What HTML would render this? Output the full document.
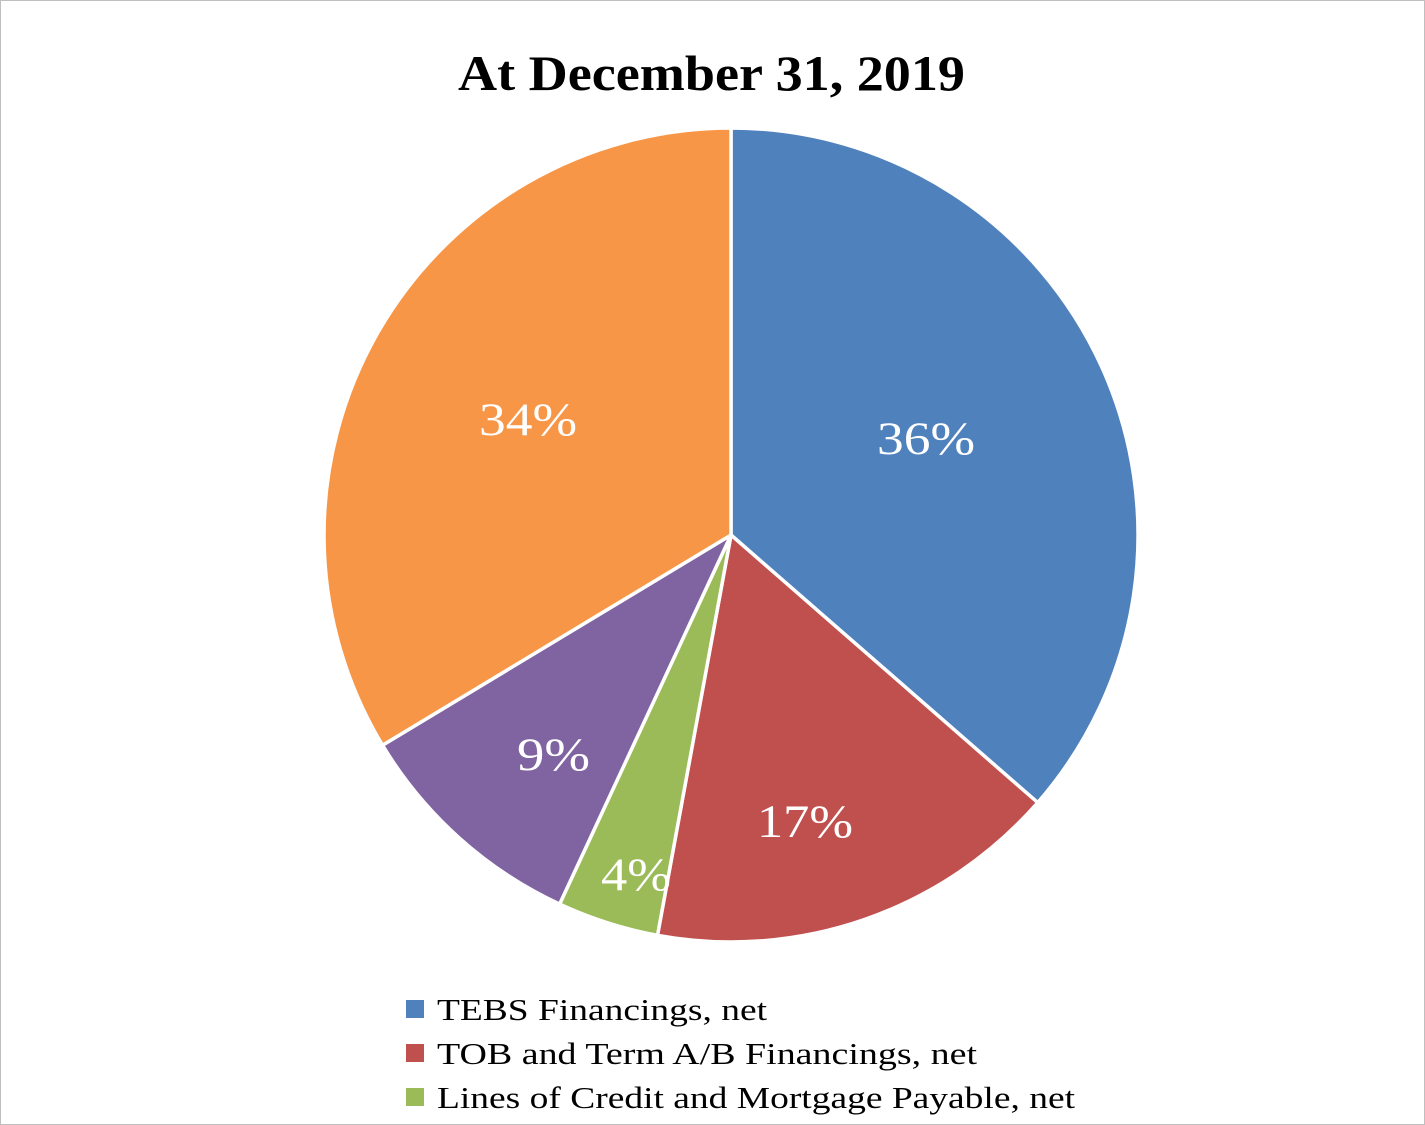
<!DOCTYPE html>
<html><head><meta charset="utf-8"><style>
html,body{margin:0;padding:0;background:#fff}
svg{display:block}
</style></head><body>
<svg width="1425" height="1125" viewBox="0 0 1425 1125" xmlns="http://www.w3.org/2000/svg">
<rect x="0.5" y="0.5" width="1424" height="1124" fill="#fff" stroke="#bfbfbf" stroke-width="1"/>
<text x="458" y="90" textLength="507" lengthAdjust="spacingAndGlyphs" font-family="Liberation Serif, serif" font-weight="bold" font-size="50">At December 31, 2019</text>
<g stroke="#fff" stroke-width="3.5" stroke-linejoin="round">
<path d="M731,535 L731,128 A407,407 0 0 1 1037.7,802.6 Z" fill="#4f81bd"/>
<path d="M731,535 L1037.7,802.6 A407,407 0 0 1 657.5,935.3 Z" fill="#c0504d"/>
<path d="M731,535 L657.5,935.3 A407,407 0 0 1 559.6,904.1 Z" fill="#9bbb59"/>
<path d="M731,535 L559.6,904.1 A407,407 0 0 1 382.5,745.2 Z" fill="#8064a2"/>
<path d="M731,535 L382.5,745.2 A407,407 0 0 1 731,128 Z" fill="#f79646"/>
</g>
<g fill="#fff" font-family="Liberation Serif, serif" font-size="47">
<text x="877" y="454" textLength="98" lengthAdjust="spacingAndGlyphs">36%</text>
<text x="757" y="837" textLength="96" lengthAdjust="spacingAndGlyphs">17%</text>
<text x="601" y="890" textLength="70" lengthAdjust="spacingAndGlyphs">4%</text>
<text x="517" y="770" textLength="73" lengthAdjust="spacingAndGlyphs">9%</text>
<text x="479" y="435" textLength="98" lengthAdjust="spacingAndGlyphs">34%</text>
</g>
<g font-family="Liberation Serif, serif" font-size="31" fill="#000">
<rect x="406" y="1000" width="18" height="18" fill="#4f81bd"/>
<text x="437" y="1020" textLength="330" lengthAdjust="spacingAndGlyphs">TEBS Financings, net</text>
<rect x="406" y="1044" width="18" height="18" fill="#c0504d"/>
<text x="437" y="1064" textLength="540" lengthAdjust="spacingAndGlyphs">TOB and Term A/B Financings, net</text>
<rect x="406" y="1088" width="18" height="18" fill="#9bbb59"/>
<text x="437" y="1108" textLength="638" lengthAdjust="spacingAndGlyphs">Lines of Credit and Mortgage Payable, net</text>
</g>
</svg>
</body></html>
